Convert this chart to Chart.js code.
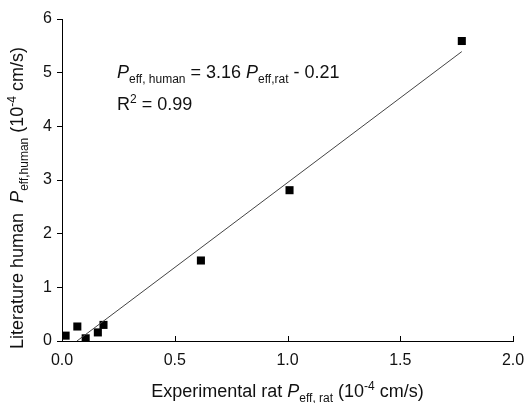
<!DOCTYPE html>
<html>
<head>
<meta charset="utf-8">
<script src="https://cdn.jsdelivr.net/npm/chart.js@4/dist/chart.umd.min.js"></script>
<style>
  html, body { margin: 0; padding: 0; background: #fff; }
  #wrap { width: 525px; height: 403px; position: relative; }
</style>
</head>
<body>
<div id="wrap"><canvas id="chart"></canvas></div>
<script>
  // values
  const ratPeff = [0.016, 0.068, 0.105, 0.159, 0.184, 0.616, 1.009, 1.773];
  const humanPeff = [0.10, 0.27, 0.05, 0.16, 0.30, 1.50, 2.81, 5.59];
  const fitSlope = 3.16;
  const fitIntercept = -0.21;
  const fitRange = [0.066, 1.773];
  const xTicks = [0, 0.5, 1.0, 1.5, 2.0];
  const yTicks = [0, 1, 2, 3, 4, 5, 6];

  const FONT = '"Liberation Sans", Arial, sans-serif';

  function runFont(r) {
    return (r.italic ? 'italic ' : '') + r.size + 'px ' + FONT;
  }

  function runsWidth(ctx, runs) {
    let w = 0;
    runs.forEach(r => { ctx.font = runFont(r); w += ctx.measureText(r.text).width; });
    return w;
  }

  function drawRuns(ctx, x, y, runs, align) {
    let cx = x;
    if (align === 'center') cx = x - runsWidth(ctx, runs) / 2;
    ctx.textBaseline = 'alphabetic';
    ctx.textAlign = 'left';
    runs.forEach(r => {
      ctx.font = runFont(r);
      ctx.fillText(r.text, cx, y + (r.shift || 0));
      cx += ctx.measureText(r.text).width;
    });
  }

  const big = 18, small = 12;
  const xTitle = [
    { text: 'Experimental rat ', size: big },
    { text: 'P', size: big, italic: true },
    { text: 'eff, rat', size: small, shift: 5 },
    { text: ' (10', size: big },
    { text: '-4', size: small, shift: -7 },
    { text: ' cm/s)', size: big }
  ];
  const yTitle = [
    { text: 'Literature human  ', size: big },
    { text: 'P', size: big, italic: true },
    { text: 'eff,human', size: small, shift: 5 },
    { text: ' (10', size: big },
    { text: '-4', size: small, shift: -7 },
    { text: ' cm/s)', size: big }
  ];
  const eqLine = [
    { text: 'P', size: big, italic: true },
    { text: 'eff, human', size: small, shift: 5 },
    { text: ' = 3.16 ', size: big },
    { text: 'P', size: big, italic: true },
    { text: 'eff,rat', size: small, shift: 5 },
    { text: ' - 0.21', size: big }
  ];
  const r2Line = [
    { text: 'R', size: big },
    { text: '2', size: small, shift: -7 },
    { text: ' = 0.99', size: big }
  ];

  const decorations = {
    id: 'decorations',
    afterDraw(chart) {
      const ctx = chart.ctx;
      const area = chart.chartArea;
      const xs = chart.scales.x;
      ctx.save();
      // inward ticks on the x axis
      ctx.strokeStyle = '#000';
      ctx.lineWidth = 1;
      xTicks.forEach(v => {
        const px = Math.round(xs.getPixelForValue(v)) + 0.5;
        ctx.beginPath();
        ctx.moveTo(px, area.bottom);
        ctx.lineTo(px, area.bottom - 5);
        ctx.stroke();
      });
      ctx.fillStyle = '#111';
      drawRuns(ctx, (area.left + area.right) / 2, 397, xTitle, 'center');
      ctx.save();
      ctx.translate(23, (area.top + area.bottom) / 2 + 18);
      ctx.rotate(-Math.PI / 2);
      drawRuns(ctx, 0, 0, yTitle, 'center');
      ctx.restore();
      drawRuns(ctx, area.left + 55, area.top + 59, eqLine, 'left');
      drawRuns(ctx, area.left + 55, area.top + 91, r2Line, 'left');
      ctx.restore();
    }
  };

  const points = ratPeff.map((x, i) => ({ x: x, y: humanPeff[i] }));
  const fitLine = fitRange.map(x => ({ x: x, y: fitSlope * x + fitIntercept }));

  new Chart(document.getElementById('chart'), {
    type: 'scatter',
    data: {
      datasets: [
        {
          label: 'Fit',
          data: fitLine,
          showLine: true,
          borderColor: '#444',
          borderWidth: 1,
          pointRadius: 0,
          fill: false
        },
        {
          label: 'Data',
          data: points,
          pointStyle: 'rect',
          pointRadius: 5.7,
          backgroundColor: '#000',
          borderColor: '#000',
          borderWidth: 0
        }
      ]
    },
    options: {
      responsive: true,
      maintainAspectRatio: false,
      animation: false,
      layout: { padding: { left: 0, right: 0, top: 19, bottom: 0 } },
      plugins: {
        legend: { display: false },
        tooltip: { enabled: false }
      },
      scales: {
        x: {
          type: 'linear',
          min: 0,
          max: 2,
          afterFit(scale) {
            scale.height = 62;
            scale.paddingRight = 12;
            scale.paddingLeft = 0;
          },
          afterBuildTicks(scale) { scale.ticks = xTicks.map(v => ({ value: v })); },
          grid: { display: false, drawTicks: false },
          border: { display: true, color: '#000', width: 1 },
          ticks: {
            padding: 10,
            color: '#111',
            font: { size: 16, family: FONT },
            callback: v => v.toFixed(1)
          }
        },
        y: {
          type: 'linear',
          min: 0,
          max: 6,
          afterFit(scale) { scale.width = 62; },
          afterBuildTicks(scale) { scale.ticks = yTicks.map(v => ({ value: v })); },
          grid: { drawOnChartArea: false, drawTicks: true, tickLength: 5, color: '#000' },
          border: { display: true, color: '#000', width: 1 },
          ticks: {
            padding: 5,
            color: '#111',
            font: { size: 16, family: FONT },
            callback: v => String(v)
          }
        }
      }
    },
    plugins: [decorations]
  });
</script>
</body>
</html>
